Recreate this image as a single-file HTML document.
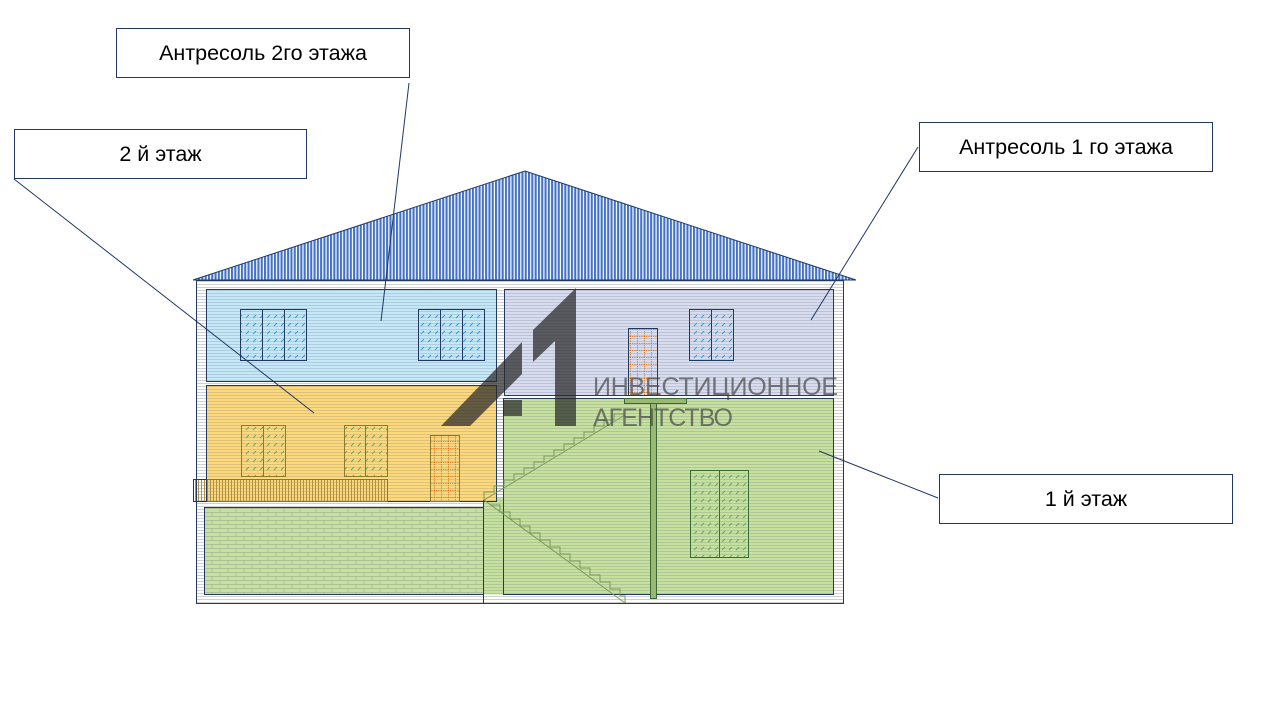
<!DOCTYPE html>
<html><head><meta charset="utf-8"><style>
body{margin:0;background:#fff;width:1280px;height:720px;overflow:hidden;font-family:"Liberation Sans",sans-serif}
.cb{position:absolute;border:1px solid #1f3864;background:#fff;font-size:21.5px;color:#000;display:flex;align-items:center;justify-content:center;box-sizing:border-box}
</style></head><body>
<svg width="1280" height="720" style="position:absolute;left:0;top:0">
<defs>
<pattern id="roof" width="3.3" height="10" patternUnits="userSpaceOnUse"><rect width="2.1" height="10" fill="#4472c4"/></pattern>
<pattern id="wall" width="10" height="3" patternUnits="userSpaceOnUse"><rect width="10" height="3" fill="#fff"/><rect y="2" width="10" height="1" fill="#d0d0d0"/></pattern>
<pattern id="hl" width="10" height="3" patternUnits="userSpaceOnUse"><rect y="2" width="10" height="1" fill="rgba(80,80,100,0.18)"/></pattern>
<pattern id="win" width="7" height="8" patternUnits="userSpaceOnUse"><path d="M1 6l3-3" stroke="#2aa0e0" stroke-width="1"/></pattern>
<pattern id="wing" width="7" height="8" patternUnits="userSpaceOnUse"><path d="M1 6l3-3" stroke="#5cae6a" stroke-width="1"/></pattern>
<pattern id="door" width="7" height="7" patternUnits="userSpaceOnUse"><path d="M0 0.5h7M0.5 0v7" stroke="#e07010" stroke-width="1" stroke-dasharray="1 1.2"/></pattern>
<pattern id="bal" width="3" height="10" patternUnits="userSpaceOnUse"><rect width="1" height="10" fill="#b09040"/></pattern>
<pattern id="brick" width="16" height="8" patternUnits="userSpaceOnUse"><path d="M0 0.5h16M0 4.5h16M4 0v4M12 4v4" stroke="#a8b890" stroke-width="0.8" fill="none"/></pattern>
</defs>
<polygon points="193,280 525,171 856,280" fill="url(#roof)" stroke="#1f3864" stroke-width="1"/>
<rect x="196.5" y="280.5" width="647" height="323" fill="url(#wall)" stroke="#1f3864"/>
<!-- rooms -->
<rect x="206.5" y="289.5" width="290" height="92" fill="#c4e8f8" stroke="#1f3864"/>
<rect x="206.5" y="289.5" width="290" height="92" fill="url(#hl)"/>
<rect x="504.5" y="289.5" width="329" height="106" fill="#d7dcee" stroke="#1f3864"/>
<rect x="504.5" y="289.5" width="329" height="106" fill="url(#hl)"/>
<rect x="483.5" y="498" width="20" height="96.5" fill="#c6e0a0"/>
<rect x="503.5" y="398.5" width="330" height="196" fill="#c6e0a0" stroke="#1f3864"/>
<rect x="483" y="398" width="351" height="196" fill="url(#hl)"/>
<rect x="206.5" y="385.5" width="290" height="116" fill="#fdd97e" stroke="#1f3864"/>
<rect x="206.5" y="385.5" width="290" height="116" fill="url(#hl)"/>
<rect x="204.5" y="507.5" width="279" height="87" fill="#c6e0a0" stroke="#1f3864"/>
<rect x="205" y="508" width="278" height="86" fill="url(#brick)"/>
<line x1="483.5" y1="500" x2="483.5" y2="603" stroke="#1f3864"/>
<!-- windows -->
<g stroke="#1f3864" stroke-width="1">
<rect x="240.5" y="309.5" width="66" height="51" fill="url(#win)"/><line x1="262.5" y1="309" x2="262.5" y2="360"/><line x1="284.5" y1="309" x2="284.5" y2="360"/>
<rect x="418.5" y="309.5" width="66" height="51" fill="url(#win)"/><line x1="440.5" y1="309" x2="440.5" y2="360"/><line x1="462.5" y1="309" x2="462.5" y2="360"/>
<rect x="689.5" y="309.5" width="44" height="51" fill="url(#win)"/><line x1="711.5" y1="309" x2="711.5" y2="360"/>
<rect x="628.5" y="328.5" width="29" height="67" fill="url(#door)"/>
</g>
<g stroke="#8a7a30" stroke-width="1">
<rect x="241.5" y="425.5" width="44" height="51" fill="url(#wing)"/><line x1="263.5" y1="425" x2="263.5" y2="476"/>
<rect x="344.5" y="425.5" width="43" height="51" fill="url(#wing)"/><line x1="365.5" y1="425" x2="365.5" y2="476"/>
<rect x="430.5" y="435.5" width="29" height="66" fill="url(#door)"/>
<rect x="206.5" y="479.5" width="181" height="22" fill="url(#bal)"/>
</g>
<rect x="193.5" y="479.5" width="13" height="22" fill="url(#bal)" stroke="#1f3864"/>
<g stroke="#3a6a3a" stroke-width="1">
<rect x="690.5" y="470.5" width="58" height="87" fill="url(#wing)"/><line x1="719.5" y1="470" x2="719.5" y2="557"/>
<rect x="624.5" y="398.5" width="62" height="5" fill="#9ab870"/>
<rect x="650.5" y="403.5" width="6" height="195" fill="#9ab870"/>
</g>
<!-- stairs -->
<g stroke="#7a9a5a" stroke-width="1" fill="none">
<line x1="484" y1="500" x2="625" y2="415"/>
<line x1="484" y1="500" x2="625" y2="603"/>
<path d="M484 500 v-8 h10 v-6 h10 v-6 h10 v-6 h10 v-6 h10 v-6 h10 v-6 h10 v-6 h10 v-6 h10 v-6 h10 v-6 h10 v-6 h10 v-6 h10 v-6 h10"/>
<path d="M490 505 h10 v7 h10 v7 h10 v7 h10 v7 h10 v7 h10 v7 h10 v7 h10 v7 h10 v7 h10 v7 h10 v7 h10 v7 h10 v7 h5 v7"/>
</g>
<!-- logo -->
<g fill="rgba(40,40,40,0.72)">
<polygon points="441,426 522,342 522,374 470,426"/>
<rect x="503" y="400" width="19" height="16"/>
<polygon points="533,330 576,288 576,426 555,426 555,341 533,362"/>
</g>
<text x="593" y="395" font-family="Liberation Sans,sans-serif" font-size="25" fill="rgba(70,70,70,0.7)" textLength="245">ИНВЕСТИЦИОННОЕ</text>
<text x="593" y="426" font-family="Liberation Sans,sans-serif" font-size="25" fill="rgba(70,70,70,0.7)" textLength="140">АГЕНТСТВО</text>
<!-- leaders -->
<g stroke="#1f3864" stroke-width="1">
<line x1="409" y1="83" x2="381" y2="321"/>
<line x1="14" y1="179" x2="314" y2="413"/>
<line x1="918" y1="147" x2="811" y2="320"/>
<line x1="938" y1="498" x2="819" y2="451"/>
</g>
</svg>
<div class="cb" style="left:116px;top:28px;width:294px;height:50px">Антресоль 2го этажа</div>
<div class="cb" style="left:14px;top:129px;width:293px;height:50px">2 й этаж</div>
<div class="cb" style="left:919px;top:122px;width:294px;height:50px">Антресоль 1 го этажа</div>
<div class="cb" style="left:939px;top:474px;width:294px;height:50px">1 й этаж</div>
</body></html>
